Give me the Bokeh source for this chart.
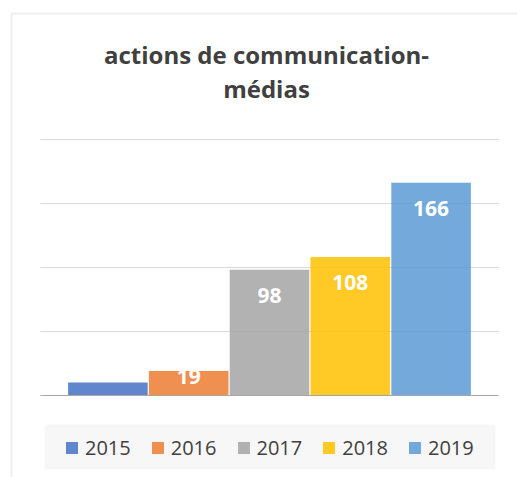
from bokeh.plotting import figure
from bokeh.models import (Range1d, Grid, FixedTicker, Legend, LegendItem, Label,
                          BoxAnnotation, ColumnDataSource)
from bokeh.core.properties import value
from bokeh.embed import file_html
from bokeh.resources import INLINE

# ---- data ----
years = ["2015", "2016", "2017", "2018", "2019"]
counts = [10, 19, 98, 108, 166]
colors = ["#4472C4", "#ED7D31", "#A5A5A5", "#FFC000", "#5B9BD5"]
label_years = ["2016", "2017", "2018", "2019"]
label_values = [19, 98, 108, 166]
title_lines = ["actions de communication-", "médias"]
grid_ticks = [50, 100, 150, 200]
base_tick = [0]

W, H = 517, 477
px_per_cat = 80.8
px_per_unit = 1.28
x_start = -0.5 - 67 / px_per_cat
y_start = -(H - 394.7) / px_per_unit

p = figure(width=W, height=H, output_backend="svg", toolbar_location=None,
           title=None,
           x_range=Range1d(x_start, x_start + W / px_per_cat),
           y_range=Range1d(y_start, y_start + H / px_per_unit),
           x_axis_location=None, y_axis_location=None,
           min_border=0)
# drop default grids
p.center = [c for c in p.center if not isinstance(c, Grid)]
p.outline_line_color = None
p.background_fill_color = "white"
p.border_fill_color = "white"

xpos = {y: i for i, y in enumerate(years)}
plot_bounds = (-0.5 - 27 / px_per_cat, len(years) - 0.5 + 27 / px_per_cat)

# chart border
p.add_layout(BoxAnnotation(left=11, right=3000, top=13, bottom=3000,
                           left_units="canvas", right_units="canvas",
                           top_units="canvas", bottom_units="canvas",
                           fill_alpha=0, line_color="#cbcbcb", line_width=2))

p.add_layout(Grid(dimension=1, ticker=FixedTicker(ticks=grid_ticks),
                  cross_bounds=plot_bounds,
                  grid_line_color="#d9d9d9", grid_line_width=1))

src = ColumnDataSource(dict(x=[xpos[y] for y in years], year=years,
                            count=counts, color=colors))
r = p.vbar(x="x", top="count", width=0.985, source=src,
           fill_color="color", fill_alpha=0.85, line_color=None)

p.add_layout(Grid(dimension=1, ticker=FixedTicker(ticks=base_tick),
                  cross_bounds=plot_bounds,
                  grid_line_color="#a6a6a6", grid_line_width=1, level="overlay"))

label_drop = [6 if v < 40 else 26 for v in label_values]
p.text(x=[xpos[y] for y in label_years], y=label_values,
       text=[str(v) for v in label_values],
       y_offset=label_drop, text_align="center", text_baseline="alphabetic",
       text_color="white", text_font=value("Open Sans"), text_font_style="bold",
       text_font_size="21px")

# title
for i, t in enumerate(title_lines):
    p.add_layout(Label(x=266, y=54 + 34 * i, x_units="canvas", y_units="canvas",
                       text=t, text_align="center", text_baseline="alphabetic",
                       text_font="Open Sans", text_font_style="bold",
                       text_font_size="24px", text_color="#404040"))

# legend background
p.add_layout(BoxAnnotation(left=44, right=495, top=424, bottom=469,
                           left_units="canvas", right_units="canvas",
                           top_units="canvas", bottom_units="canvas",
                           fill_color="#f7f7f7", fill_alpha=1, line_color=None))

items = [LegendItem(label=y, renderers=[r], index=i) for i, y in enumerate(years)]
legend = Legend(items=items, orientation="horizontal", location=(64, 16),
                padding=0, margin=0, spacing=19, label_standoff=6,
                glyph_width=15, glyph_height=15, label_height=20,
                label_text_font="Open Sans", label_text_font_size="20px",
                label_text_color="#404040", background_fill_alpha=0,
                border_line_color=None)
p.add_layout(legend)

open("out.html", "w").write(file_html(p, INLINE))
